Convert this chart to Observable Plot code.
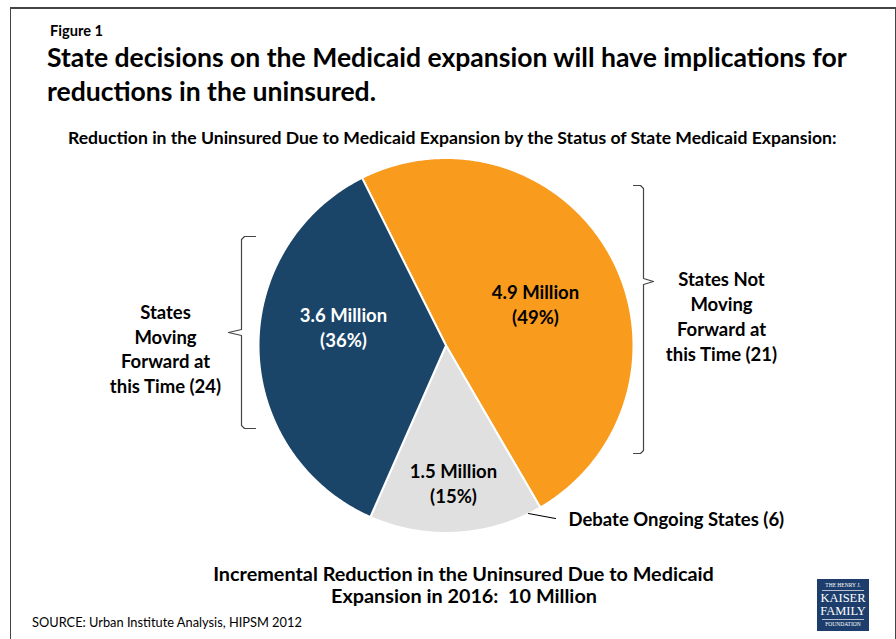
<!DOCTYPE html>
<html><head><meta charset="utf-8">
<script src="https://cdn.jsdelivr.net/npm/d3@7"></script>
<script src="https://cdn.jsdelivr.net/npm/@observablehq/plot@0.6"></script>
<style>
html,body{margin:0;padding:0;background:#fff;}
#wrap{position:relative;width:896px;height:639px;overflow:hidden;font-family:Lato,"Open Sans",sans-serif;color:#000;}
#frame{position:absolute;left:10px;top:7px;width:886px;height:700px;border-left:1.5px solid #444;border-right:1.5px solid #444;border-top:2px solid #444;box-sizing:border-box;}
.t{position:absolute;white-space:nowrap;line-height:1;}
#chart{position:absolute;left:0;top:0;}
#logo{position:absolute;left:817px;top:579px;width:52px;height:52px;background:#1d3e6c;color:#fff;font-family:"Liberation Serif","DejaVu Serif",serif;text-align:center;overflow:hidden;}
#logo .sm{font-size:5.5px;line-height:7px;height:7px;}
#logo .bg{font-size:12.5px;line-height:13px;height:13px;}
#logo .rule{border-top:0.7px solid #b8c0d0;margin:1px 5px 1px;height:0;}
</style></head><body>
<div id="wrap">
<div id="frame"></div>
<div id="chart"></div>
<div class="t" id="fig" data-fs="15" data-w="53" data-left="50" data-base="37" style="font-weight:700">Figure 1</div>
<div class="t" id="title1" data-fs="24" data-w="800" data-left="47" data-base="68" style="font-weight:700">State decisions on the Medicaid expansion will have implications for</div>
<div class="t" id="title2" data-same="title1" data-left="47" data-base="102" style="font-weight:700">reductions in the uninsured.</div>
<div class="t" id="sub" data-fs="15" data-w="769" data-left="68" data-base="145" style="font-weight:700">Reduction in the Uninsured Due to Medicaid Expansion by the Status of State Medicaid Expansion:</div>
<div class="t" id="foot1" data-fs="18" data-w="501" data-cx="463.5" data-base="582" style="font-weight:700">Incremental Reduction in the Uninsured Due to Medicaid</div>
<div class="t" id="foot2" data-same="foot1" data-cx="464" data-base="604" style="font-weight:700">Expansion in 2016:&nbsp; 10 Million</div>
<div class="t" id="src" data-fs="13" data-w="270" data-left="32" data-base="627" style="font-weight:400">SOURCE: Urban Institute Analysis, HIPSM 2012</div>
<div id="logo">
  <div class="sm" style="margin-top:3px">THE HENRY J.</div>
  <div class="rule"></div>
  <div class="bg">KAISER</div>
  <div class="bg">FAMILY</div>
  <div class="rule"></div>
  <div class="sm">FOUNDATION</div>
</div>
</div>
<script>
// ---- data ----
const categories = ["States Not Moving Forward at this Time", "Debate Ongoing States", "States Moving Forward at this Time"];
const stateCounts = [21, 6, 24];
const reductionMillions = [4.9, 1.5, 3.6];
const sharePercent = [49, 15, 36];
const sliceColors = ["#f99b1c", "#e0e0e0", "#1a4569"];
const sideLabelLines = [["States Not", "Moving", "Forward at", "this Time"], null, ["States", "Moving", "Forward at", "this Time"]];

// ---- geometry ----
const CX = 445.5, CY = 345, R = 187.5;
const START = -26.6 * Math.PI / 180;
const U = (px, py) => ({x: (px - CX) / R, y: (CY - py) / R});
const FS = 18.5;

const arcs = d3.pie().sort(null).startAngle(START).endAngle(START + 2 * Math.PI)(reductionMillions);
const slicePts = [];
arcs.forEach((a, i) => {
  slicePts.push({cat: categories[i], x: 0, y: 0});
  const n = Math.max(2, Math.ceil((a.endAngle - a.startAngle) / (Math.PI / 360)));
  for (let k = 0; k <= n; k++) {
    const t = a.startAngle + (a.endAngle - a.startAngle) * k / n;
    slicePts.push({cat: categories[i], x: Math.sin(t), y: Math.cos(t)});
  }
});

const valueAnchors = [U(535, 302.5), U(453, 481.5), U(343, 325.5)];
const valueText = reductionMillions.map((m, i) => `${m.toFixed(1)} Million\n(${sharePercent[i]}%)`);
const valueData = arcs.map((a, i) => ({i, ...valueAnchors[i], text: valueText[i]}));

const sideData = [
  {...U(721, 315), text: sideLabelLines[0].slice(0, 3).join("\n") + "\n" + sideLabelLines[0][3] + ` (${stateCounts[0]})`},
  {...U(165, 347.5), text: sideLabelLines[2].slice(0, 3).join("\n") + "\n" + sideLabelLines[2][3] + ` (${stateCounts[2]})`}
];
const debateData = [{...U(568, 520), text: `${categories[1]} (${stateCounts[1]})`}];

const bracketL = [[255,236],[244,236],[241,239],[241,329],[228,332],[241,335],[241,425],[244,428],[255,428]].map(p => U(...p));
const bracketR = [[633,185],[640,185],[643,188],[643,278],[653,281],[643,284],[643,450],[640,453],[633,453]].map(p => U(...p));
const leader = [[528,513],[555,518]].map(p => U(...p));

const chart = Plot.plot({
  width: 896, height: 639, margin: 0,
  x: {domain: [-1, 1], range: [CX - R, CX + R], axis: null},
  y: {domain: [-1, 1], range: [CY + R, CY - R], axis: null},
  color: {domain: categories, range: sliceColors},
  style: {fontFamily: "Lato, 'Open Sans', sans-serif", background: "transparent", overflow: "visible"},
  marks: [
    Plot.line(slicePts, {x: "x", y: "y", z: "cat", fill: "cat", stroke: "white", strokeWidth: 2, strokeLinejoin: "round", curve: "linear-closed"}),
    Plot.text(valueData.filter(d => d.i !== 2), {x: "x", y: "y", text: "text", fill: "#000", fontSize: FS, fontWeight: "bold", lineHeight: 25 / FS}),
    Plot.text(valueData.filter(d => d.i === 2), {x: "x", y: "y", text: "text", fill: "#fff", fontSize: FS, fontWeight: "bold", lineHeight: 25 / FS}),
    Plot.text(sideData, {x: "x", y: "y", text: "text", fill: "#000", fontSize: FS, fontWeight: "bold", lineHeight: 24.8 / FS}),
    Plot.text(debateData, {x: "x", y: "y", text: "text", fill: "#000", fontSize: FS, fontWeight: "bold", textAnchor: "start"}),
    Plot.line(bracketL, {x: "x", y: "y", stroke: "#444", strokeWidth: 1.2}),
    Plot.line(bracketR, {x: "x", y: "y", stroke: "#444", strokeWidth: 1.2}),
    Plot.line(leader, {x: "x", y: "y", stroke: "#000", strokeWidth: 1.2})
  ]
});
document.getElementById("chart").appendChild(chart);

// ---- fit HTML text lines ----
const sizes = {};
document.querySelectorAll(".t").forEach(el => {
  let fs;
  if (el.dataset.same) fs = sizes[el.dataset.same];
  else {
    fs = +el.dataset.fs;
    el.style.fontSize = fs + "px";
    const w = el.getBoundingClientRect().width;
    if (el.dataset.w && w > 0) fs = fs * (+el.dataset.w) / w;
  }
  sizes[el.id] = fs;
  el.style.fontSize = fs + "px";
  const w = el.getBoundingClientRect().width;
  el.style.top = (+el.dataset.base - 0.887 * fs) + "px";
  if (el.dataset.left) el.style.left = el.dataset.left + "px";
  else el.style.left = (+el.dataset.cx - w / 2) + "px";
});
</script>
</body></html>
